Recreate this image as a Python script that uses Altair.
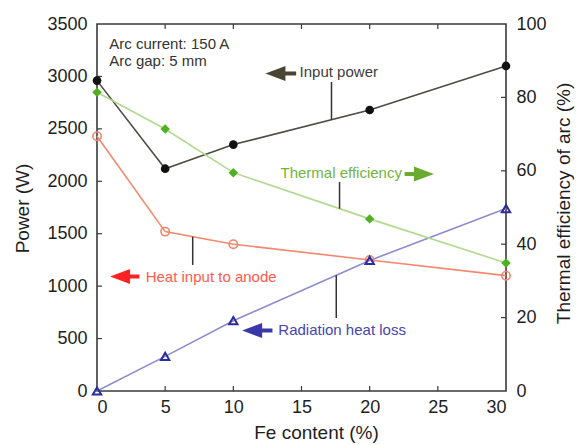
import altair as alt
import numpy as np
import pandas as pd

# Measured series (Fe content in %, powers in W, efficiency in %)
fe_content = [0, 5, 10, 20, 30]
input_power = [2960, 2120, 2350, 2680, 3100]
heat_to_anode = [2430, 1520, 1400, 1250, 1100]
radiation_loss = [0, 330, 670, 1245, 1740]
thermal_eff = [81.4, 71.4, 59.5, 46.9, 34.9]

x_ticks = [0, 5, 10, 15, 20, 25, 30]
power_ticks = [0, 500, 1000, 1500, 2000, 2500, 3000, 3500]
eff_ticks = [0, 20, 40, 60, 80, 100]

W, H = 409, 367
P_MAX, E_MAX = 3500, 100
FONT = "Liberation Sans"
FRAME = "#3a3a3a"

df = pd.DataFrame({
    "fe": fe_content,
    "input": input_power,
    "anode": heat_to_anode,
    "rad": radiation_loss,
    "eff": thermal_eff,
})

x_scale = alt.Scale(domain=[0, 30], nice=False)
p_scale = alt.Scale(domain=[0, P_MAX], nice=False)
e_scale = alt.Scale(domain=[0, E_MAX], nice=False)

x_axis = alt.Axis(
    values=x_ticks, format="d", title="Fe content (%)", titleX=219, titleY=41,
    titleBaseline="middle", titleAlign="center", labelPadding=7,
)
left_axis = alt.Axis(
    orient="left", values=power_ticks, format="d", title="Power (W)",
    titleX=-75, titleY=184, titleAngle=270, titleBaseline="middle",
    titleAlign="center", labelPadding=10,
)
right_axis = alt.Axis(
    orient="right", values=eff_ticks, format="d", title="Thermal efficiency of arc (%)",
    titleX=57, titleY=179, titleAngle=270, titleBaseline="middle",
    titleAlign="center", labelPadding=10,
)


def xq(field="fe"):
    # every layer carries the same x axis so the shared axis merges cleanly
    return alt.X(f"{field}:Q", scale=x_scale, axis=x_axis)


def yp(field, axis=None):
    return alt.Y(f"{field}:Q", scale=p_scale, axis=axis)


base = alt.Chart(df)

# Power curves
input_line = base.mark_line(color="#4e4b40", strokeWidth=1.6).encode(
    x=xq(), y=yp("input", axis=left_axis))
input_pts = base.mark_point(shape="circle", filled=True, size=75, color="#111111", opacity=1).encode(
    x=xq(), y=yp("input"))

anode_line = base.mark_line(color="#f4876f", strokeWidth=1.6).encode(x=xq(), y=yp("anode"))
anode_pts = base.mark_point(shape="circle", filled=False, size=70, color="#f0866a", strokeWidth=1.6, opacity=1).encode(
    x=xq(), y=yp("anode"))

rad_line = base.mark_line(color="#8c8cd0", strokeWidth=1.6).encode(x=xq(), y=yp("rad"))
rad_pts = base.mark_point(shape="triangle-up", filled=False, size=70, color="#2c2c9c", strokeWidth=2, opacity=1).encode(
    x=xq(), y=yp("rad"))

# Inward tick marks on all four edges
left_ticks = alt.Chart(pd.DataFrame({"v": power_ticks[1:-1]})).mark_rule(color=FRAME, strokeWidth=1.2).encode(
    y=yp("v"), x=alt.value(0), x2=alt.value(5))
xt = pd.DataFrame({"v": x_ticks[1:-1]})
bottom_ticks = alt.Chart(xt).mark_rule(color=FRAME, strokeWidth=1.2).encode(
    x=xq("v"), y=alt.value(H), y2=alt.value(H - 5))
top_ticks = alt.Chart(xt).mark_rule(color=FRAME, strokeWidth=1.2).encode(
    x=xq("v"), y=alt.value(0), y2=alt.value(5))
right_ticks = alt.Chart(pd.DataFrame({"v": eff_ticks[1:-1]})).mark_rule(color=FRAME, strokeWidth=1.2).encode(
    y=alt.Y("v:Q", scale=e_scale, axis=None), x=alt.value(W - 5), x2=alt.value(W))

# Annotation labels, arrows and leader lines (data coordinates)
LEFT = "M -1 0 L 1 -0.75 L 1 0.75 Z"
RIGHT = "M 1 0 L -1 -0.75 L -1 0.75 Z"
arrows = pd.DataFrame({
    "head": [13.09, 23.98, 1.69, 11.38],
    "tail": [14.61, 22.56, 3.11, 12.87],
    "y": [3028, 2069, 1092, 577],
    "shape": [LEFT, RIGHT, LEFT, LEFT],
    "col": ["#4a4535", "#6aaa30", "#ff2222", "#3838a8"],
})
arrow_shaft = alt.Chart(arrows).mark_rule(strokeWidth=4).encode(
    x=xq("head"), x2="tail", y=yp("y"), color=alt.Color("col:N", scale=None))
arrow_head = alt.Chart(arrows).mark_point(filled=True, size=400, opacity=1).encode(
    x=xq("head"), y=yp("y"), shape=alt.Shape("shape:N", scale=None),
    color=alt.Color("col:N", scale=None))

labels = pd.DataFrame({
    "x": [14.86, 13.46, 3.57, 13.30, 0.90, 0.90],
    "y": [2991, 2028, 1042, 534, 3262, 3100],
    "text": ["Input power", "Thermal efficiency", "Heat input to anode",
             "Radiation heat loss", "Arc current: 150 A", "Arc gap: 5 mm"],
    "col": ["#3c3c3c", "#72b440", "#ff5a4e", "#4646b0", "#333333", "#333333"],
})
label_text = alt.Chart(labels).mark_text(
    align="left", baseline="alphabetic", font=FONT, fontSize=15).encode(
    x=xq("x"), y=yp("y"), text="text:N", color=alt.Color("col:N", scale=None))

lead_x = [17.20, 17.79, 7.02, 17.55]
lead_end = [2947, 1993, 1202, 696]
lead_curve = [
    float(np.interp(lead_x[0], fe_content, input_power)),
    float(np.interp(lead_x[1], fe_content, thermal_eff)) * P_MAX / E_MAX,
    float(np.interp(lead_x[2], fe_content, heat_to_anode)),
    float(np.interp(lead_x[3], fe_content, radiation_loss)),
]
leaders = pd.DataFrame({"x": lead_x, "y1": lead_end, "y2": lead_curve})
leader_lines = alt.Chart(leaders).mark_rule(color="#333333", strokeWidth=1.5).encode(
    x=xq("x"), y=yp("y1"), y2="y2")

# Thermal efficiency on the right-hand axis
eff_line = base.mark_line(color="#b2d98f", strokeWidth=1.6).encode(
    x=xq(), y=alt.Y("eff:Q", scale=e_scale, axis=right_axis))
eff_pts = base.mark_point(shape="diamond", filled=True, size=90, color="#4fb020", opacity=1).encode(
    x=xq(), y=alt.Y("eff:Q", scale=e_scale, axis=None))

# Every layer keeps its own y scale; all power layers share the same fixed domain,
# so only the left (power) and right (efficiency) axes are drawn.
chart = (
    alt.layer(
        input_line, left_ticks, bottom_ticks, top_ticks, right_ticks,
        anode_line, rad_line, eff_line,
        leader_lines, arrow_shaft, arrow_head, label_text,
        anode_pts, rad_pts, eff_pts, input_pts,
    )
    .resolve_scale(y="independent")
    .properties(
        width=W, height=H,
        autosize=alt.AutoSizeParams(type="none"),
        padding={"left": 97, "top": 24, "right": 75, "bottom": 54},
        background="white",
    )
    .configure_view(stroke=FRAME, strokeWidth=1.6)
    .configure_axis(
        grid=False, ticks=False, domain=False,
        labelFont=FONT, labelFontSize=18, labelColor="#1e1e1e",
        titleFont=FONT, titleFontSize=19, titleFontWeight="normal", titleColor="#1e1e1e",
    )
)

chart.save("out.html", embed_options={"renderer": "svg", "actions": False})
